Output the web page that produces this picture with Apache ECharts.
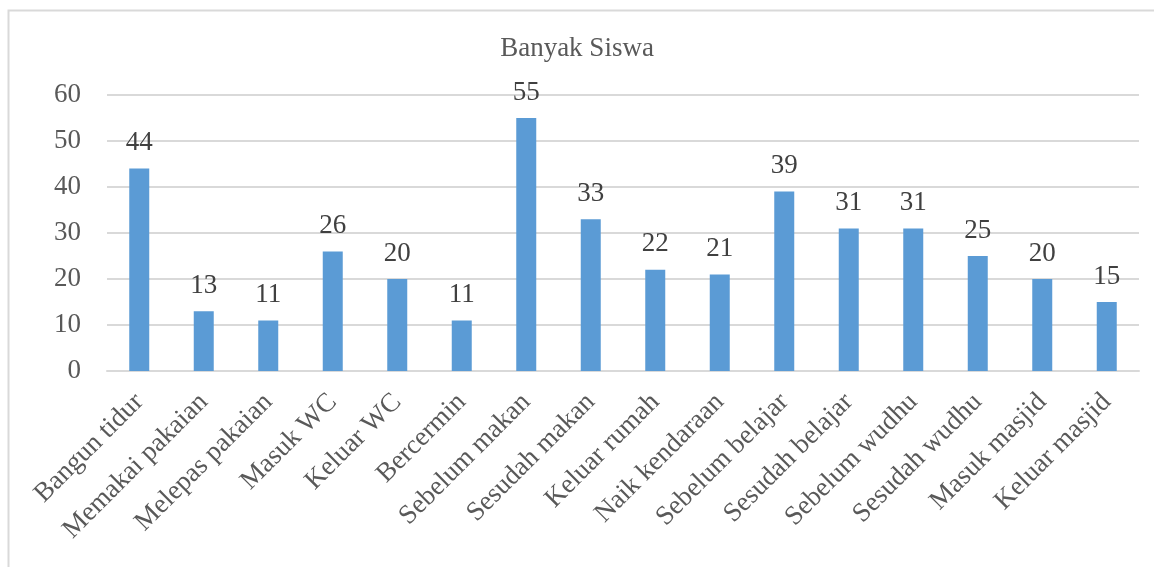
<!DOCTYPE html>
<html>
<head>
<meta charset="utf-8">
<script src="https://cdn.jsdelivr.net/npm/echarts@6/dist/echarts.min.js"></script>
<style>
html, body { margin: 0; padding: 0; background: #fff; }
#chart { width: 1154px; height: 567px; }
</style>
</head>
<body>
<div id="chart"></div>
<script>
// kategori kegiatan
const categories = ['Bangun tidur', 'Memakai pakaian', 'Melepas pakaian', 'Masuk WC', 'Keluar WC',
  'Bercermin', 'Sebelum makan', 'Sesudah makan', 'Keluar rumah', 'Naik kendaraan',
  'Sebelum belajar', 'Sesudah belajar', 'Sebelum wudhu', 'Sesudah wudhu', 'Masuk masjid', 'Keluar masjid']
const banyakSiswa = [44, 13, 11, 26, 20, 11, 55, 33, 22, 21, 39, 31, 31, 25, 20, 15]
const yTicks = { min: 0, max: 60, interval: 10 }

const font = '"Liberation Serif", "DejaVu Serif", serif'
const chart = echarts.init(document.getElementById('chart'))
chart.setOption({
  animation: false,
  title: {
    text: 'Banyak Siswa',
    left: 'center',
    top: 30,
    textStyle: { fontFamily: font, fontSize: 27, fontWeight: 'normal', color: '#595959' }
  },
  graphic: [{
    type: 'rect',
    shape: { x: 8.5, y: 10.5, width: 1300, height: 700 },
    style: { fill: 'none', stroke: '#d9d9d9', lineWidth: 2 },
    silent: true
  }],
  grid: { left: 107, right: 15, top: 95, bottom: 196 },
  xAxis: {
    type: 'category',
    data: categories,
    axisLine: { lineStyle: { color: '#d9d9d9', width: 2 } },
    axisTick: { show: false },
    axisLabel: {
      rotate: 45,
      interval: 0,
      margin: 27,
      fontFamily: font,
      fontSize: 27,
      color: '#595959'
    }
  },
  yAxis: {
    type: 'value',
    min: yTicks.min,
    max: yTicks.max,
    interval: yTicks.interval,
    axisLine: { show: false },
    axisTick: { show: false },
    axisLabel: { margin: 26, fontFamily: font, fontSize: 27, color: '#595959' },
    splitLine: { lineStyle: { color: '#d9d9d9', width: 2 } }
  },
  series: [{
    type: 'bar',
    data: banyakSiswa,
    barWidth: 20,
    itemStyle: { color: '#5b9bd5' },
    label: {
      show: true,
      position: 'top',
      distance: 12,
      fontFamily: font,
      fontSize: 27,
      color: '#404040'
    }
  }]
})
</script>
</body>
</html>
